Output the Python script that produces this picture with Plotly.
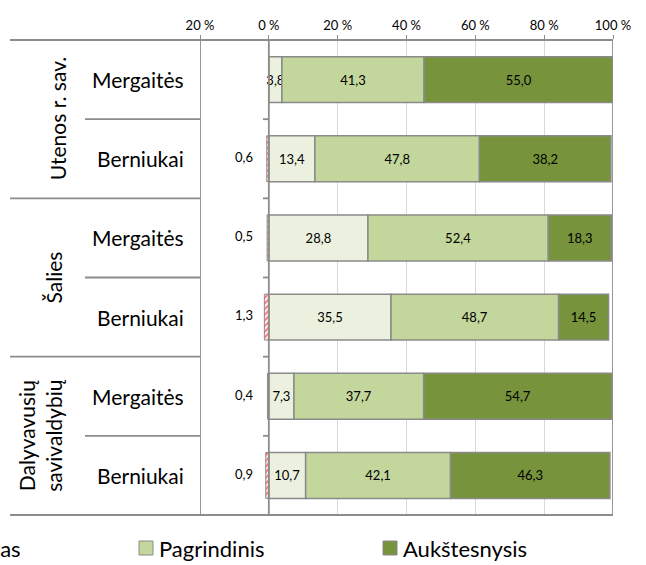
import plotly.graph_objects as go

groups = ["Utenos r. sav.", "Šalies", "Dalyvavusių<br>savivaldybių"]
rows = ["Mergaitės", "Berniukai", "Mergaitės", "Berniukai", "Mergaitės", "Berniukai"]
below = [None, 0.6, 0.5, 1.3, 0.4, 0.9]
patenkinamas = [3.8, 13.4, 28.8, 35.5, 7.3, 10.7]
pagrindinis = [41.3, 47.8, 52.4, 48.7, 37.7, 42.1]
aukstesnysis = [55.0, 38.2, 18.3, 14.5, 54.7, 46.3]
tick_vals = [-20, 0, 20, 40, 60, 80, 100]
tick_text = ["20 %", "0 %", "20 %", "40 %", "60 %", "80 %", "100 %"]

FONT = "Lato"
W, H = 646, 565
L, R, T, B = 200, 33, 40, 50
pw = W - L - R
ph = H - T - B


def px_x(p):
    return (p - L) / pw


def px_y(p):
    return (H - B - p) / ph


def fmt(v):
    return ("%.1f" % v).replace(".", ",") if v is not None else ""


ys = list(range(len(rows)))
edge = "#8a8a8a"
bw = 0.58

fig = go.Figure()
fig.add_trace(go.Bar(
    y=ys, x=[-v if v is not None else None for v in below], orientation="h", width=bw,
    marker=dict(color="white", line=dict(color=edge, width=1),
                pattern=dict(shape="/", fgcolor="#ff0000", bgcolor="white", size=4, solidity=0.55)),
    showlegend=False, hoverinfo="skip"))
fig.add_trace(go.Scatter(
    y=ys, x=[-7.2] * len(ys), mode="text",
    text=[fmt(v) for v in below],
    textfont=dict(family=FONT, size=13, color="black"), showlegend=False, hoverinfo="skip"))

for vals, col in [(patenkinamas, "#ebf1de"), (pagrindinis, "#c3d69b"), (aukstesnysis, "#77933c")]:
    fig.add_trace(go.Bar(
        y=ys, x=vals, orientation="h", width=bw,
        marker=dict(color=col, line=dict(color=edge, width=1.5)),
        text=[fmt(v) for v in vals],
        textposition="inside", insidetextanchor="middle", constraintext="none", textangle=0,
        textfont=dict(family=FONT, size=13, color="black"),
        showlegend=False, hoverinfo="skip"))

shapes = []
line_c = "#8c8c8c"
for yy in [0, 1]:
    shapes.append(dict(type="line", xref="paper", yref="paper", x0=px_x(10), x1=1, y0=yy, y1=yy,
                       line=dict(color=line_c, width=1.8)))
for yb in [1.5, 3.5]:
    shapes.append(dict(type="line", xref="paper", yref="y", x0=px_x(10), x1=0, y0=yb, y1=yb,
                       line=dict(color=line_c, width=1.8)))
for yb in [0.5, 2.5, 4.5]:
    shapes.append(dict(type="line", xref="paper", yref="y", x0=px_x(85), x1=0, y0=yb, y1=yb,
                       line=dict(color=line_c, width=1.8)))
for yb in [0.5, 1.5, 2.5, 3.5, 4.5]:
    shapes.append(dict(type="line", xref="x", yref="y", x0=-1.7, x1=0, y0=yb, y1=yb,
                       line=dict(color=line_c, width=1.8)))
for xv in [-20, 0, 100]:
    shapes.append(dict(type="line", xref="x", yref="paper", x0=xv, x1=xv, y0=0, y1=1,
                       line=dict(color=line_c, width=1.8)))

shapes.append(dict(type="rect", xref="paper", yref="paper", x0=px_x(139), x1=px_x(153),
                   y0=px_y(555), y1=px_y(541), fillcolor="#c3d69b", line=dict(color=edge, width=1)))
shapes.append(dict(type="rect", xref="paper", yref="paper", x0=px_x(383), x1=px_x(397),
                   y0=px_y(555), y1=px_y(541), fillcolor="#77933c", line=dict(color=edge, width=1)))

ann = []
for i, r in enumerate(rows):
    ann.append(dict(x=px_x(186), y=i, xref="paper", yref="y", text=r, showarrow=False,
                    xanchor="right", yanchor="middle", font=dict(family=FONT, size=21, color="black")))
gx = [px_x(57), px_x(53), px_x(40)]
for g, (name, xg) in enumerate(zip(groups, gx)):
    ann.append(dict(x=xg, y=2 * g + 0.5, xref="paper", yref="y", text=name, showarrow=False,
                    textangle=-90, xanchor="center", yanchor="middle",
                    font=dict(family=FONT, size=21, color="black")))
ann.append(dict(x=px_x(23), y=px_y(548), xref="paper", yref="paper", text="Patenkinamas",
                showarrow=False, xanchor="right", yanchor="middle",
                font=dict(family=FONT, size=22, color="black")))
ann.append(dict(x=px_x(157), y=px_y(548), xref="paper", yref="paper", text="Pagrindinis",
                showarrow=False, xanchor="left", yanchor="middle",
                font=dict(family=FONT, size=22, color="black")))
ann.append(dict(x=px_x(401), y=px_y(548), xref="paper", yref="paper", text="Aukštesnysis",
                showarrow=False, xanchor="left", yanchor="middle",
                font=dict(family=FONT, size=22, color="black")))

fig.update_layout(
    width=W, height=H, margin=dict(l=L, r=R, t=T, b=B),
    barmode="relative",
    plot_bgcolor="white", paper_bgcolor="white",
    font=dict(family=FONT, color="black"),
    separators=", ",
    uniformtext=dict(minsize=13, mode="show"),
    shapes=shapes, annotations=ann,
    xaxis=dict(range=[-20, 100], side="top", tickvals=tick_vals, ticktext=tick_text,
               showgrid=True, gridcolor="#d9d9d9", gridwidth=1, zeroline=False,
               ticks="outside", ticklen=4, tickcolor=line_c,
               tickfont=dict(family=FONT, size=13, color="black"), fixedrange=True),
    yaxis=dict(range=[5.5, -0.5], showticklabels=False, showgrid=False, zeroline=False,
               fixedrange=True),
)

fig.write_html("out.html", config={"displayModeBar": False},
               post_script="document.body.style.margin='0';")
